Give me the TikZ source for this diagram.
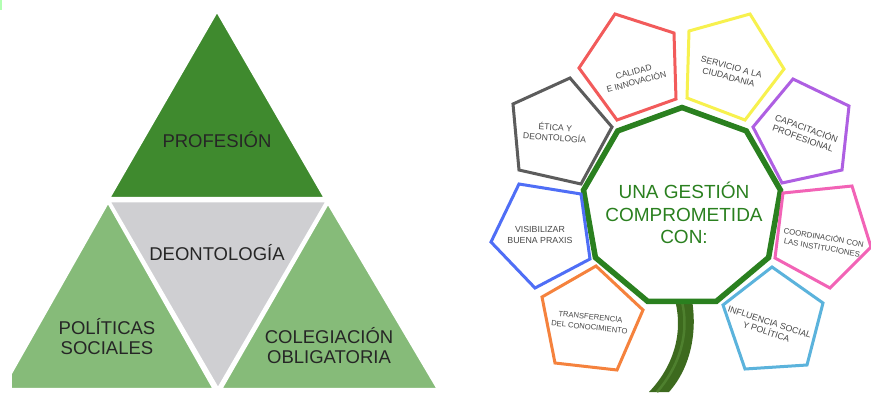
\documentclass[tikz,border=0pt]{standalone}
\usepackage{fontspec}
\setmainfont{Liberation Sans}
\usetikzlibrary{calc}
\definecolor{dkgreen}{HTML}{3F8A2E}
\definecolor{ltgreen}{HTML}{86BB79}
\definecolor{trigray}{HTML}{CFCFD2}
\definecolor{ctrgreen}{HTML}{2A801F}
\definecolor{stemdk}{HTML}{3D6A1E}
\definecolor{stemlt}{HTML}{4E802E}
\definecolor{pred}{HTML}{F25B5B}
\definecolor{pyellow}{HTML}{F7F14E}
\definecolor{ppurple}{HTML}{AE5FE2}
\definecolor{pgray}{HTML}{5C5C5C}
\definecolor{pblue}{HTML}{4F6EF6}
\definecolor{ppink}{HTML}{F263B6}
\definecolor{porange}{HTML}{F5823D}
\definecolor{plblue}{HTML}{5BB3DC}
\begin{document}
\begin{tikzpicture}[x=1pt,y=-1pt,
  tri/.style={draw=white, line width=2.5pt, line join=miter},
  lbl/.style={font=\fontsize{18.5}{20}\selectfont, text=black!85, align=center, inner sep=0pt},
  pent/.style={line width=3pt, line join=miter},
  ptxt/.style={font=\fontsize{#1}{10.5}\selectfont, text=black!72, align=center, inner sep=0pt},
  ptxt/.default=8.5,
  ctxt/.style={font=\fontsize{19}{22.5}\selectfont, text=ctrgreen, align=center, inner sep=0pt}]
\useasboundingbox (0,0) rectangle (871,392);
\fill[white] (0,0) rectangle (871,392);
\fill[green!30!white] (0,0) rectangle (2,10);
% ---- triangles
\begin{scope}
\clip (12,0) rectangle (871,388);
\fill[tri, fill=dkgreen] (217,11) -- (325,198) -- (109,198) -- cycle;
\fill[tri, fill=trigray] (109,201) -- (327,201) -- (218,389) -- cycle;
\fill[tri, fill=ltgreen] (108,202) -- (214,389) -- (2,389) -- cycle;
\fill[tri, fill=ltgreen] (328,203) -- (438,389) -- (221,389) -- cycle;
\end{scope}
\node[lbl] (prof) at (217,140) {PROFESIÓN};
\node[lbl] (deon) at (217,253) {DEONTOLOGÍA};
\node[lbl] (poli) at (107,337) {POLÍTICAS\\SOCIALES};
\node[lbl] (cole) at (329,346) {COLEGIACIÓN\\OBLIGATORIA};
% ---- stem
\fill[stemdk] (675,300) .. controls (684,335) and (672,368) .. (649,392)
  -- (669,392) .. controls (692,366) and (697,330) .. (692,300) -- cycle;
\draw[stemlt, line width=2.5pt] (682,302) .. controls (690,335) and (678,368) .. (657,392);
% ---- central nonagon
\coordinate (c) at (682,207.5);
\draw[ctrgreen, line width=5.5pt, line join=miter, fill=white]
  ($(c)+(0,-100)$) \foreach \k in {1,...,8} { -- ($(c)+({90+40*\k}:100 and -100)$) } -- cycle;
\node[ctxt] (ctr) at (684,213) {UNA GESTIÓN\\COMPROMETIDA\\CON:};
% ---- pentagons
\draw[pent, pred] (615,14) -- (674,33) -- (676,99) -- (617,120) -- (579,68) -- cycle;
\draw[pent, pyellow] (689,31) -- (750,14) -- (784,69) -- (745,120) -- (687,98) -- cycle;
\draw[pent, ppurple] (793,79) -- (849,106) -- (842,170) -- (782,183) -- (753,127) -- cycle;
\draw[pent, pgray] (570,78) -- (612,127) -- (581,184) -- (519,170) -- (513,104) -- cycle;
\draw[pent, pblue] (519,184) -- (581,194) -- (590,259) -- (535,288) -- (491,242) -- cycle;
\draw[pent, ppink] (783,193) -- (852,186) -- (871,247) -- (830,288) -- (775,258) -- cycle;
\draw[pent, porange] (542,297) -- (596,266) -- (643,310) -- (617,370) -- (555,363) -- cycle;
\draw[pent, plblue] (723,305) -- (772,267) -- (823,303) -- (807,365) -- (745,369) -- cycle;
\node[ptxt=8.5, rotate=15] (t1) at (635,77) {CALIDAD\\E INNOVACIÓN};
\node[ptxt=8.7, rotate=-15] (t2) at (730,72) {SERVICIO A LA\\CIUDADANIA};
\node[ptxt=9, rotate=-20] (t3) at (805,133) {CAPACITACIÓN\\PROFESIONAL};
\node[ptxt=8.6, rotate=-4] (t4) at (555,132) {ÉTICA Y\\DEONTOLOGÍA};
\node[ptxt=8.8] (t5) at (540,235) {VISIBILIZAR\\BUENA PRAXIS};
\node[ptxt=7.8, rotate=-10] (t6) at (823,242) {COORDINACIÓN CON\\LAS INSTITUCIONES};
\node[ptxt=7.6, rotate=-6] (t7) at (590,322) {TRANSFERENCIA\\DEL CONOCIMIENTO};
\node[ptxt=8.8, rotate=-18] (t8) at (768,327) {INFLUENCIA SOCIAL\\Y POLÍTICA};
\end{tikzpicture}
\end{document}
